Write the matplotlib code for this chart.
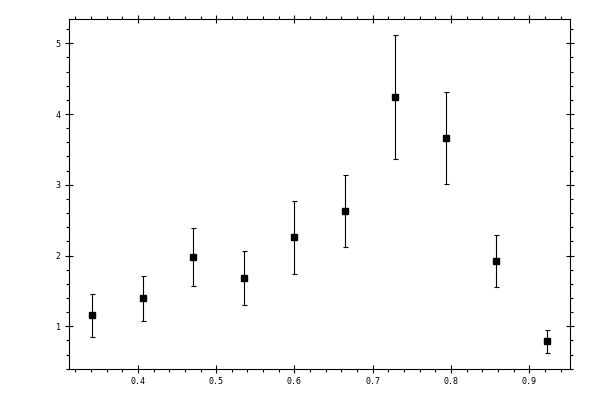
import numpy as np
import matplotlib
matplotlib.use("Agg")
import matplotlib.pyplot as plt
from matplotlib.ticker import MultipleLocator

x_vals = [0.3416, 0.4066, 0.4705, 0.5350, 0.5995, 0.6640, 0.7285, 0.7930, 0.8575, 0.9220]
y_vals = [1.155, 1.396, 1.975, 1.678, 2.258, 2.625, 4.237, 3.657, 1.919, 0.788]
y_err = [0.30, 0.32, 0.41, 0.38, 0.52, 0.51, 0.876, 0.65, 0.37, 0.16]

fig = plt.figure(figsize=(6, 4), dpi=100)
ax = fig.add_axes([0.115, 0.0775, 0.835, 0.875])

ax.errorbar(x_vals, y_vals, yerr=y_err, fmt='s', color='black',
            markersize=5, elinewidth=0.8, capsize=1.8, capthick=0.8)

ax.set_xlim(0.312, 0.952)
ax.set_ylim(0.397, 5.343)

ax.xaxis.set_major_locator(MultipleLocator(0.1))
ax.xaxis.set_minor_locator(MultipleLocator(0.02))
ax.yaxis.set_major_locator(MultipleLocator(1))
ax.yaxis.set_minor_locator(MultipleLocator(0.2))

ax.tick_params(which='major', direction='inout', length=5.8, width=0.8,
               top=True, right=True, labelsize=6, pad=3)
ax.tick_params(which='minor', direction='out', length=2.3, width=0.8,
               top=True, right=True)
for lab in ax.get_xticklabels() + ax.get_yticklabels():
    lab.set_family('DejaVu Sans Mono')
for sp in ax.spines.values():
    sp.set_linewidth(0.8)

fig.savefig("out.png", dpi=100)
